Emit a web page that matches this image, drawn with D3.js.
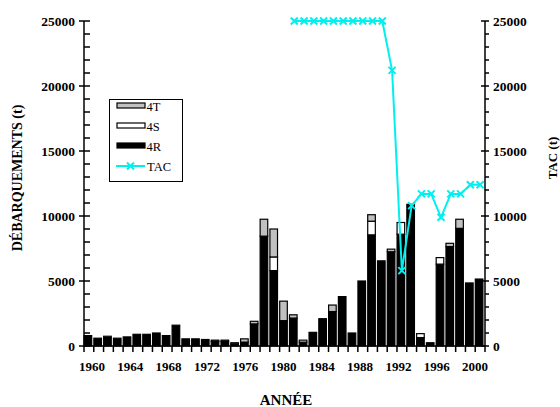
<!DOCTYPE html>
<head>
<meta charset="utf-8">
<script src="https://d3js.org/d3.v7.min.js"></script>
<style>
  body { margin: 0; background: #fff; }
  text { font-family: "Liberation Serif", "Times New Roman", serif; }
</style>
</head>
<body>
<div id="chart"></div>
<script>
    // landings by division (t), one value per year
    var years = d3.range(1960, 2001);
    var r4 = [800, 600, 650, 600, 700, 900, 900, 1000, 800, 1600,
              550, 550, 500, 350, 350, 150, 300, 1700, 8450, 5800,
              1950, 2150, 300, 1050, 2100, 2650, 3800, 1000, 5000, 8550,
              6550, 7250, 8600, 10900, 650, 250, 6300, 7650, 9050, 4850,
              5150];
    var s4 = [0, 0, 100, 0, 0, 0, 0, 0, 0, 0,
              0, 0, 0, 0, 0, 0, 0, 0, 0, 1050,
              0, 0, 150, 0, 0, 0, 0, 0, 0, 1050,
              0, 0, 900, 0, 300, 0, 500, 0, 0, 0,
              0];
    var t4 = [0, 0, 0, 0, 0, 0, 0, 0, 0, 0,
              0, 0, 0, 100, 100, 100, 250, 200, 1300, 2150,
              1500, 250, 0, 0, 0, 500, 0, 0, 0, 500,
              0, 200, 0, 0, 0, 0, 0, 250, 700, 0,
              0];
    var tacYears = d3.range(1981, 2001);
    var tac = [25000, 25000, 25000, 25000, 25000, 25000, 25000, 25000, 25000, 25000,
               21200, 5800, 10800, 11700, 11700, 9900, 11700, 11700, 12400, 12400];
    var yTicks = [0, 5000, 10000, 15000, 20000, 25000];
    var xLabels = [1960, 1964, 1968, 1972, 1976, 1980, 1984, 1988, 1992, 1996, 2000];

    var W = 560, H = 407;
    var m = {left: 84, right: 485, top: 21, bottom: 346};

    var svg = d3.select("#chart").append("svg")
        .attr("width", W).attr("height", H);

    var x = d3.scaleLinear().domain([1959.5, 2000.5]).range([m.left, m.right]);
    // year labels sit on a slightly tighter spacing than the bars
    var xl = d3.scaleLinear().domain([1960, 2000]).range([92, 475]);
    var y = d3.scaleLinear().domain([0, 25000]).range([m.bottom, m.top]);
    var bw = 7.6;

    // stacked bars: 4R (black), 4S (white), 4T (grey)
    var rows = years.map(function(yr, i) { return {year: yr, r: r4[i], s: s4[i], t: t4[i]}; });
    var stack = d3.stack().keys(["r", "s", "t"])(rows);
    var fills = {r: "#000", s: "#fff", t: "#c0c0c0"};

    var bars = svg.append("g");
    stack.forEach(function(layer) {
        bars.selectAll(null)
          .data(layer.filter(function(d) { return d[1] - d[0] > 0; }))
          .enter().append("rect")
            .attr("x", function(d) { return x(d.data.year) - bw / 2 - 1; })
            .attr("width", bw)
            .attr("y", function(d) { return y(d[1]); })
            .attr("height", function(d) { return y(d[0]) - y(d[1]); })
            .attr("fill", fills[layer.key])
            .attr("stroke", "#000")
            .attr("stroke-width", 1.2);
    });

    // axes
    var ax = svg.append("g").attr("stroke", "#000").attr("stroke-width", 1.5);
    ax.append("line").attr("x1", m.left).attr("x2", m.right).attr("y1", m.bottom).attr("y2", m.bottom);
    ax.append("line").attr("x1", m.left).attr("x2", m.left).attr("y1", m.top).attr("y2", m.bottom);
    ax.append("line").attr("x1", m.right).attr("x2", m.right).attr("y1", m.top).attr("y2", m.bottom);

    // x ticks at year boundaries
    ax.selectAll(null).data(d3.range(1959.5, 2001, 1)).enter().append("line")
        .attr("x1", function(d) { return x(d); }).attr("x2", function(d) { return x(d); })
        .attr("y1", m.bottom).attr("y2", m.bottom + 6);

    // y ticks, minor every 1000
    var minor = d3.range(0, 25001, 1000);
    ax.selectAll(null).data(minor).enter().append("line")
        .attr("x1", function(d) { return d % 5000 ? m.left : m.left - 5; })
        .attr("x2", m.left + 6)
        .attr("y1", function(d) { return y(d); }).attr("y2", function(d) { return y(d); });
    ax.selectAll(null).data(minor).enter().append("line")
        .attr("x1", function(d) { return d % 5000 ? m.right : m.right - 4; })
        .attr("x2", m.right + 4)
        .attr("y1", function(d) { return y(d); }).attr("y2", function(d) { return y(d); });

    var lab = svg.append("g").attr("font-weight", "bold").attr("fill", "#000");
    lab.selectAll(null).data(yTicks).enter().append("text")
        .attr("font-size", 13.5)
        .attr("x", m.left - 9).attr("y", function(d) { return y(d) + 4.5; })
        .attr("text-anchor", "end").text(function(d) { return d; });
    lab.selectAll(null).data(yTicks).enter().append("text")
        .attr("font-size", 13.5)
        .attr("x", m.right + 8).attr("y", function(d) { return y(d) + 4.5; })
        .attr("text-anchor", "start").text(function(d) { return d; });
    lab.selectAll(null).data(xLabels).enter().append("text")
        .attr("font-size", 13)
        .attr("x", function(d) { return xl(d); }).attr("y", 371)
        .attr("text-anchor", "middle").text(function(d) { return d; });

    // titles
    svg.append("text").attr("font-weight", "bold").attr("font-size", 15)
        .attr("x", 286).attr("y", 405).attr("text-anchor", "middle").text("ANNÉE");
    svg.append("text").attr("font-weight", "bold").attr("font-size", 14)
        .attr("transform", "translate(22,178) rotate(-90)")
        .attr("text-anchor", "middle").text("DÉBARQUEMENTS (t)");
    svg.append("text").attr("font-weight", "bold").attr("font-size", 13)
        .attr("transform", "translate(557,158) rotate(-90)")
        .attr("text-anchor", "middle").text("TAC (t)");

    // TAC line with x markers
    var cyan = "#00f0f0";
    var tacData = tacYears.map(function(yr, i) { return {year: yr, v: tac[i]}; });
    svg.append("path").datum(tacData)
        .attr("fill", "none").attr("stroke", cyan).attr("stroke-width", 2)
        .attr("d", d3.line().x(function(d) { return x(d.year); }).y(function(d) { return y(d.v); }));
    var cross = function(g, cx, cy) {
        g.append("path")
          .attr("d", "M" + (cx - 3.5) + "," + (cy - 3.5) + "L" + (cx + 3.5) + "," + (cy + 3.5) +
                     "M" + (cx - 3.5) + "," + (cy + 3.5) + "L" + (cx + 3.5) + "," + (cy - 3.5))
          .attr("stroke", cyan).attr("stroke-width", 2);
    };
    var marks = svg.append("g");
    tacData.forEach(function(d) { cross(marks, x(d.year), y(d.v)); });

    // legend
    var lg = svg.append("g");
    lg.append("rect").attr("x", 109.5).attr("y", 99.5).attr("width", 73).attr("height", 82)
        .attr("fill", "#fff").attr("stroke", "#000").attr("stroke-width", 1);
    var items = [["4T", "#c0c0c0", 108], ["4S", "#fff", 128], ["4R", "#000", 148]];
    items.forEach(function(it) {
        lg.append("rect").attr("x", 117).attr("y", it[2] - 5).attr("width", 28).attr("height", 5)
            .attr("fill", it[1]).attr("stroke", "#000").attr("stroke-width", 1.2);
        lg.append("text").attr("x", 146.5).attr("y", it[2] + 3).attr("font-size", 12.5).text(it[0]);
    });
    lg.append("line").attr("x1", 116).attr("x2", 145).attr("y1", 166).attr("y2", 166)
        .attr("stroke", cyan).attr("stroke-width", 2);
    cross(lg, 130.5, 166);
    lg.append("text").attr("x", 147).attr("y", 170.5).attr("font-size", 12.5).text("TAC");
</script>
</body>
